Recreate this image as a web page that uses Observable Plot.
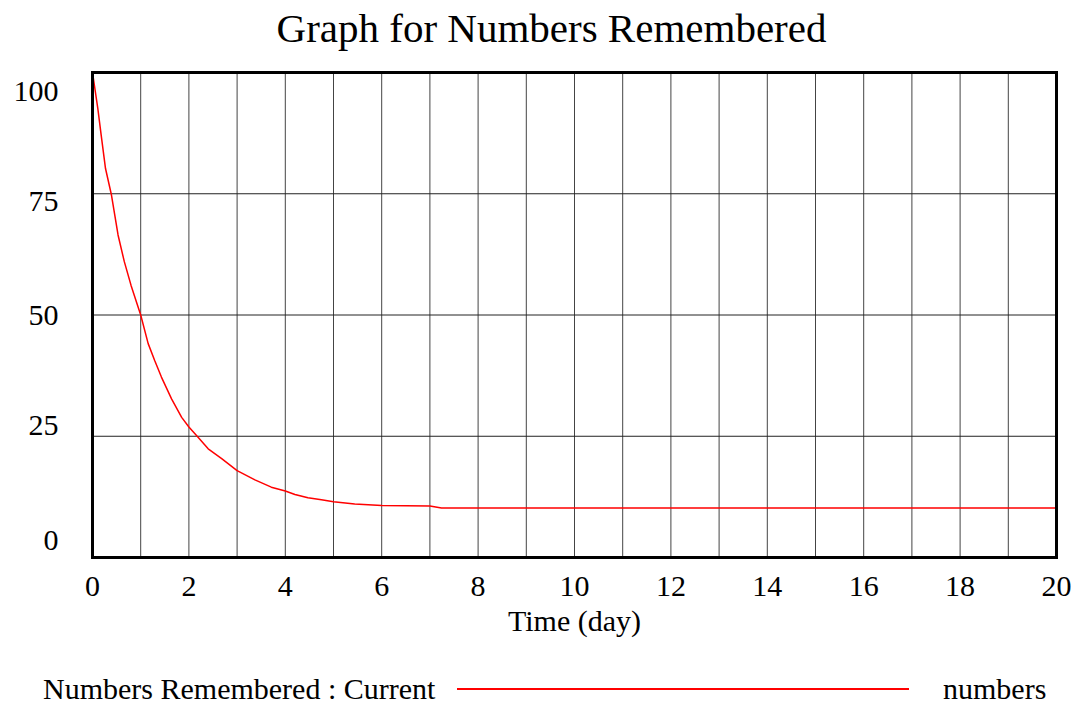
<!DOCTYPE html>
<html>
<head>
<meta charset="utf-8">
<script src="https://cdn.jsdelivr.net/npm/d3@7"></script>
<script src="https://cdn.jsdelivr.net/npm/@observablehq/plot@0.6"></script>
<style>
  html, body { margin: 0; padding: 0; background: white; }
  body { width: 1081px; height: 706px; overflow: hidden; font-family: "Liberation Serif", "Times New Roman", serif; color: black; }
  #title { height: 56px; line-height: 56px; font-size: 41px; text-align: center; padding-left: 22px; white-space: nowrap; font-family: "Liberation Serif", "Times New Roman", serif; }
  #chart svg { display: block; }
  #legend { position: relative; height: 56px; font-size: 30px; line-height: 30px; font-family: "Liberation Serif", "Times New Roman", serif; }
  #legend span { position: absolute; top: 24px; white-space: nowrap; font-family: "Liberation Serif", "Times New Roman", serif; }
  #legend .swatch { position: absolute; left: 457px; width: 452px; top: 38px; height: 1.5px; background: #ff0000; }
</style>
</head>
<body>
<div id="title">Graph for Numbers Remembered</div>
<div id="chart"></div>
<div id="legend">
  <span style="left:43px">Numbers Remembered : Current</span>
  <div class="swatch"></div>
  <span style="left:943px">numbers</span>
</div>
<script>
// Data
const days = [0, 0.11, 0.18, 0.27, 0.39, 0.53, 0.66, 0.8, 1.0, 1.155, 1.29, 1.43, 1.64, 1.85, 2.0, 2.19, 2.4, 2.68, 3.0, 3.37, 3.71, 4.0, 4.2, 4.47, 4.75, 5.0, 5.44, 6.0, 7.0, 7.24, 20];
const remembered = [100, 92.6, 87.1, 80.2, 74.9, 66.5, 61, 56.1, 50, 44.1, 40.6, 37.2, 32.7, 28.9, 26.9, 24.8, 22.4, 20.4, 17.9, 16, 14.5, 13.7, 13.0, 12.3, 11.9, 11.5, 11.05, 10.7, 10.6, 10.2, 10.2];
const xTickLabels = [0, 2, 4, 6, 8, 10, 12, 14, 16, 18, 20];
const yTickLabels = [0, 25, 50, 75, 100];
const xGridDays = d3.range(1, 20);
const yGridValues = [25, 50, 75];

const data = days.map((d, i) => ({day: d, value: remembered[i]}));

// vertical nudges of the y tick labels (the original spreads them inside the frame)
const yLabelNudge = {0: -17, 25: -11, 50: 0, 75: 8, 100: 19};

const font = "'Liberation Serif', 'Times New Roman', serif";

const chart = Plot.plot({
  width: 1081,
  height: 594,
  marginLeft: 92,
  marginRight: 25,
  marginTop: 16,
  marginBottom: 93,
  x: {domain: [0, 20]},
  y: {domain: [0, 100]},
  style: {fontFamily: font, fontSize: "30px", color: "black", background: "white"},
  marks: [
    Plot.gridX(xGridDays, {stroke: "#444", strokeOpacity: 1, strokeWidth: 1}),
    Plot.gridY(yGridValues, {stroke: "#222", strokeOpacity: 1, strokeWidth: 1}),
    Plot.axisX(xTickLabels, {tickSize: 0, tickPadding: 17, fontSize: 30, fontFamily: font, fontVariant: "normal", label: "Time (day)", labelAnchor: "center", labelOffset: 73, labelArrow: "none"}),
    ...yTickLabels.map(v => Plot.axisY([v], {tickSize: 0, tickPadding: 34, fontSize: 30, fontFamily: font, fontVariant: "normal", dy: yLabelNudge[v], label: null})),
    Plot.line(data, {x: "day", y: "value", stroke: "#ff0000", strokeWidth: 1.5}),
    Plot.frame({stroke: "black", strokeWidth: 3})
  ]
});
chart.querySelectorAll("text").forEach(t => t.style.fontFamily = font);
document.getElementById("chart").appendChild(chart);
</script>
</body>
</html>
